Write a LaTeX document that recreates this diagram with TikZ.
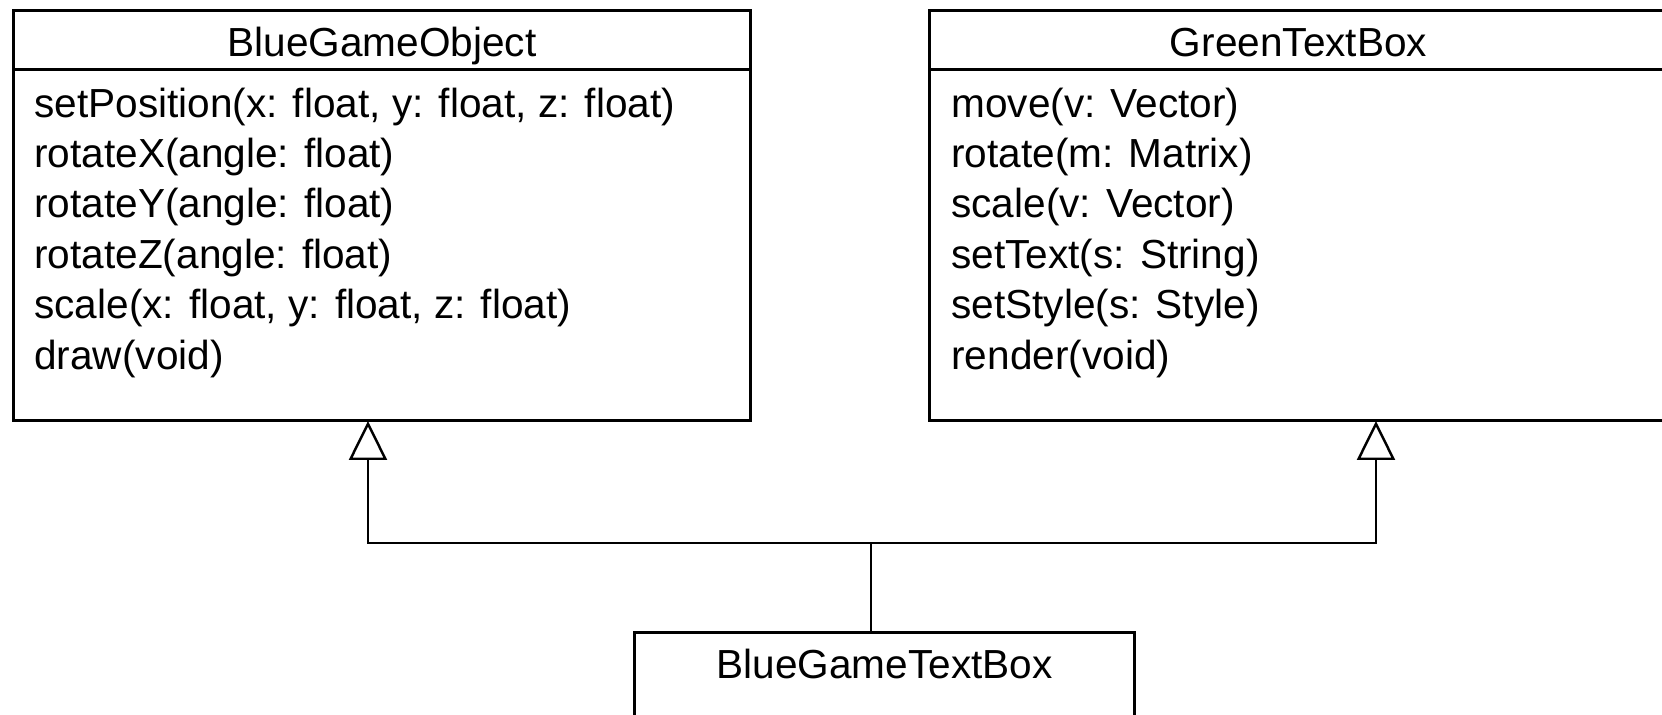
\documentclass[tikz,border=0pt]{standalone}
\usepackage{fontspec}
\setmainfont{Liberation Sans}
\usetikzlibrary{arrows.meta,calc,positioning}

\begin{document}
\begin{tikzpicture}[x=0.02cm,y=-0.02cm,font=\fontsize{23.1}{28}\selectfont,
  classbox/.style={draw,line width=1.7pt,inner sep=0pt,outer sep=0pt},
  label/.style={inner sep=0pt},
  conn/.style={line width=1.4pt},
  inherit/.style={-{Triangle[open,length=0.78cm,width=0.76cm]}}]
  \useasboundingbox (0,0) rectangle (1662,714);
  \node[classbox,minimum width=14.76cm,minimum height=8.22cm] (obj) at (382,215.5) {};
  \node[classbox,minimum width=14.76cm,minimum height=8.22cm] (txt) at (1298.5,215.5) {};
  \node[classbox,minimum width=10.02cm,minimum height=2.6cm] (sub) at (884.5,697) {};
  \draw[line width=1.7pt] ($(obj.north west)+(0,59)$) -- ($(obj.north east)+(0,59)$);
  \draw[line width=1.7pt] ($(txt.north west)+(0,59)$) -- ($(txt.north east)+(0,59)$);
  \node[label,anchor=base] (objname) at (382,56) {BlueGameObject};
  \node[label,anchor=base] (txtname) at (1298.5,56) {GreenTextBox};
  \node[label,anchor=base] (subname) at (884.5,678) {BlueGameTextBox};
  \foreach \m [count=\i] in {{setPosition(x: float, y: float, z: float)},
      {rotateX(angle: float)},{rotateY(angle: float)},{rotateZ(angle: float)},
      {scale(x: float, y: float, z: float)},{draw(void)}}
    \node[label,anchor=base west] (objm\i) at (34,66.6+50.4*\i) {\m};
  \foreach \m [count=\i] in {{move(v: Vector)},{rotate(m: Matrix)},{scale(v: Vector)},
      {setText(s: String)},{setStyle(s: Style)},{render(void)}}
    \node[label,anchor=base west] (txtm\i) at (951,66.6+50.4*\i) {\m};
  \coordinate (join) at (871,543);
  \draw[conn] (sub.north -| join) -- (join);
  \draw[conn,inherit] (join) -| ($(obj.south west)!0.481!(obj.south east)$);
  \draw[conn,inherit] (join) -| ($(txt.south west)!0.605!(txt.south east)$);
\end{tikzpicture}
\end{document}
